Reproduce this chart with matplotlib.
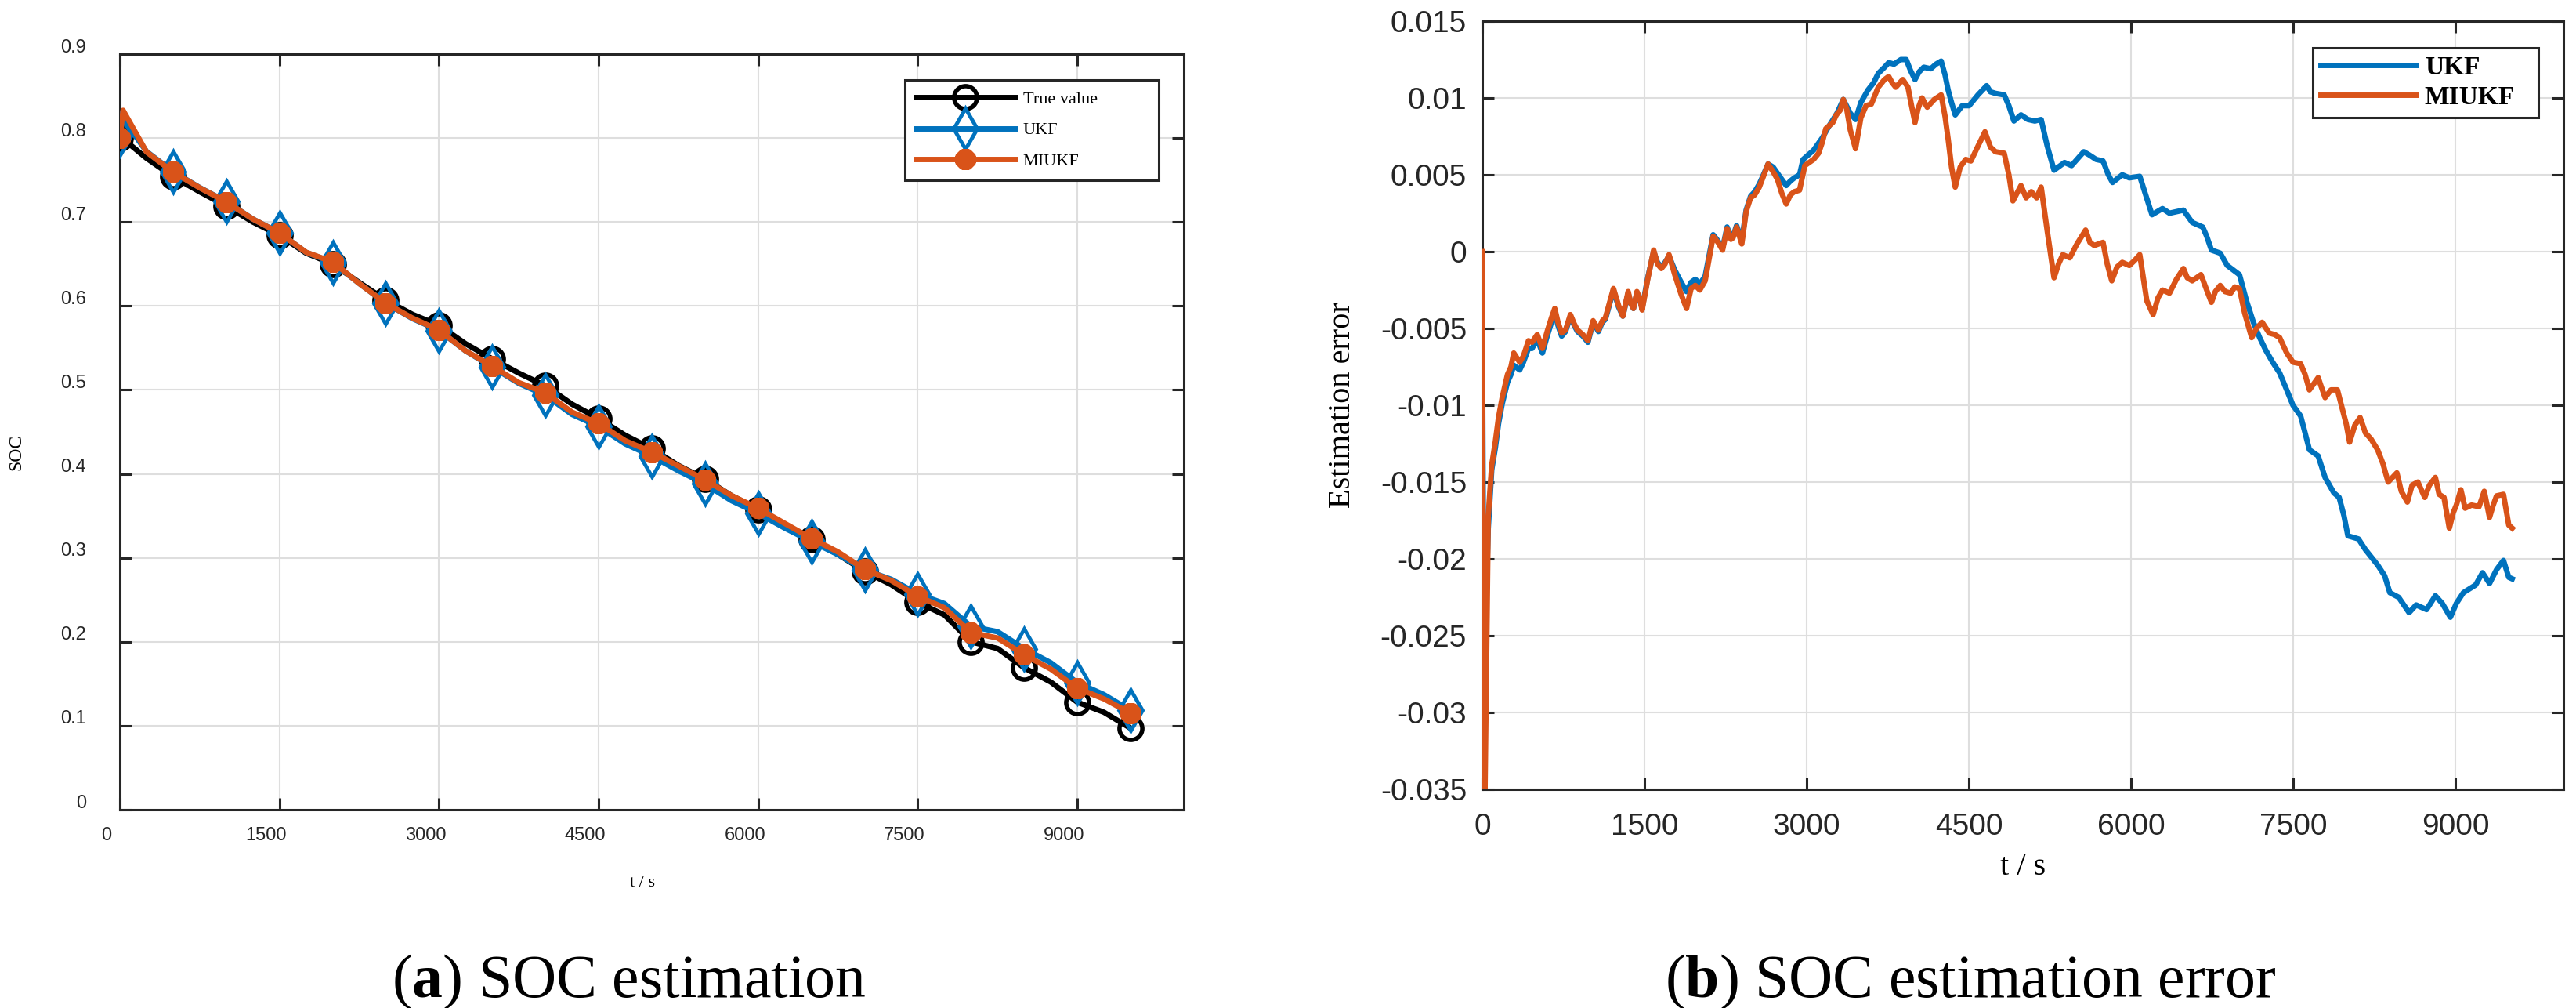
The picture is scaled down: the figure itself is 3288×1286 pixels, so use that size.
import matplotlib
matplotlib.use('Agg')
import matplotlib.pyplot as plt
from matplotlib.transforms import ScaledTranslation

plt.rcParams['mathtext.fontset'] = 'custom'
plt.rcParams['mathtext.rm'] = 'Liberation Serif'
plt.rcParams['mathtext.bf'] = 'Liberation Serif:bold'

# ---- (a) SOC estimation ----
t_soc = [0, 30, 250, 500, 750, 1000, 1250, 1500, 1750, 2000, 2250, 2500, 2750, 3000,
         3250, 3500, 3750, 4000, 4250, 4500, 4750, 5000, 5250, 5500, 5750, 6000,
         6250, 6500, 6750, 7000, 7250, 7500, 7750, 8000, 8250, 8500, 8750, 9000,
         9250, 9500]
soc_true = [0.800, 0.799, 0.776, 0.754, 0.736, 0.719, 0.700, 0.684, 0.663, 0.650,
            0.628, 0.607, 0.590, 0.577, 0.555, 0.537, 0.520, 0.505, 0.483, 0.466,
            0.446, 0.430, 0.410, 0.394, 0.374, 0.358, 0.338, 0.322, 0.304, 0.284,
            0.268, 0.247, 0.232, 0.200, 0.192, 0.169, 0.152, 0.128, 0.116, 0.097]
soc_ukf = [0.804, 0.823, 0.784, 0.760, 0.741, 0.7242, 0.7035, 0.687, 0.6638, 0.652,
           0.6268, 0.6032, 0.585, 0.5708, 0.5465, 0.5273, 0.5078, 0.4938, 0.4708,
           0.4565, 0.4357, 0.4212, 0.4037, 0.388, 0.368, 0.353, 0.3354, 0.3194,
           0.3039, 0.2855, 0.2744, 0.257, 0.2455, 0.2183, 0.212, 0.1918, 0.175,
           0.1512, 0.137, 0.1182]
soc_miukf = [0.800, 0.833, 0.7835, 0.7595, 0.7408, 0.724, 0.7035, 0.687, 0.664, 0.6525,
             0.6268, 0.6032, 0.5855, 0.5713, 0.5465, 0.5283, 0.5087, 0.4966, 0.4735,
             0.460, 0.4395, 0.426, 0.4095, 0.393, 0.374, 0.359, 0.341, 0.3232, 0.307,
             0.2864, 0.273, 0.2542, 0.2405, 0.211, 0.2045, 0.1845, 0.1675, 0.1445,
             0.132, 0.1148]

# ---- (b) SOC estimation error ----
t_miukf = [0, 8, 25, 40, 55, 87, 120, 150, 184, 233, 265, 291, 346, 380, 427, 460, 508,
           556, 600, 640, 670, 700, 734, 770, 815, 850, 880, 930, 977, 1025, 1074, 1110,
           1139, 1213, 1260, 1300, 1349, 1375, 1398, 1430, 1455, 1478, 1530, 1585, 1620,
           1656, 1690, 1727, 1780, 1840, 1889, 1931, 1970, 2012, 2061, 2135, 2180, 2222,
           2264, 2300, 2319, 2352, 2400, 2440, 2481, 2520, 2562, 2600, 2643, 2690, 2730,
           2770, 2811, 2850, 2886, 2934, 2983, 3064, 3110, 3144, 3177, 3242, 3274, 3310,
           3339, 3370, 3404, 3452, 3501, 3549, 3598, 3662, 3720, 3759, 3790, 3824, 3889,
           3937, 3970, 4002, 4030, 4067, 4115, 4180, 4244, 4280, 4309, 4340, 4374, 4420,
           4471, 4519, 4580, 4649, 4700, 4746, 4827, 4870, 4908, 4982, 5030, 5078, 5127,
           5169, 5224, 5288, 5330, 5369, 5434, 5500, 5580, 5620, 5660, 5741, 5780, 5822,
           5870, 5919, 5984, 6030, 6081, 6146, 6204, 6250, 6291, 6356, 6420, 6485, 6520,
           6566, 6647, 6700, 6744, 6780, 6825, 6870, 6922, 6960, 7003, 7051, 7116, 7160,
           7213, 7278, 7330, 7375, 7440, 7498, 7569, 7610, 7650, 7731, 7760, 7795, 7850,
           7909, 7957, 7990, 8022, 8070, 8119, 8168, 8220, 8281, 8330, 8378, 8459, 8500,
           8556, 8600, 8653, 8717, 8760, 8815, 8850, 8895, 8944, 8980, 9009, 9051, 9090,
           9150, 9219, 9267, 9316, 9350, 9381, 9445, 9494, 9526]
err_miukf = [0.0, -0.030, -0.035, -0.026, -0.0172, -0.0139, -0.0124, -0.0108, -0.0095,
             -0.008, -0.0075, -0.0066, -0.0072, -0.0068, -0.0058, -0.0059, -0.0054,
             -0.0063, -0.0052, -0.0043, -0.0037, -0.0046, -0.0053, -0.0051, -0.0041,
             -0.0047, -0.0051, -0.0054, -0.0058, -0.0045, -0.0051, -0.0045, -0.0043,
             -0.0024, -0.0035, -0.0042, -0.0026, -0.0034, -0.0037, -0.0026, -0.003,
             -0.0038, -0.0018, 0.0001, -0.0008, -0.0011, -0.0008, -0.0002, -0.0015,
             -0.0028, -0.0037, -0.0024, -0.0022, -0.0025, -0.0019, 0.001, 0.0006, 0.0001,
             0.0015, 0.0008, 0.0009, 0.0016, 0.0005, 0.0026, 0.0035, 0.0037, 0.0042,
             0.0049, 0.0057, 0.0052, 0.0047, 0.0038, 0.0031, 0.0037, 0.0039, 0.0040,
             0.0056, 0.0060, 0.0064, 0.0071, 0.0080, 0.0084, 0.0089, 0.0092, 0.0099,
             0.0093, 0.0079, 0.0067, 0.0087, 0.0095, 0.0096, 0.0107, 0.0112, 0.0114,
             0.0110, 0.0107, 0.0112, 0.0107, 0.0095, 0.0084, 0.0093, 0.0100, 0.0094,
             0.0099, 0.0102, 0.0088, 0.0073, 0.0055, 0.0042, 0.0055, 0.0060, 0.0059,
             0.0068, 0.0078, 0.0068, 0.0065, 0.0064, 0.0050, 0.0033, 0.0043, 0.0035,
             0.0039, 0.0035, 0.0042, 0.0014, -0.0017, -0.0008, -0.0002, -0.0004, 0.0005,
             0.0014, 0.0006, 0.0004, 0.0006, -0.0008, -0.0019, -0.0010, -0.0007, -0.0009,
             -0.0006, -0.0002, -0.0032, -0.0041, -0.0030, -0.0025, -0.0027, -0.0018,
             -0.0011, -0.0017, -0.0019, -0.0015, -0.0025, -0.0033, -0.0026, -0.0022,
             -0.0026, -0.0027, -0.0023, -0.0024, -0.0040, -0.0056, -0.0050, -0.0046,
             -0.0053, -0.0054, -0.0056, -0.0066, -0.0072, -0.0073, -0.0080, -0.0090,
             -0.0082, -0.0088, -0.0095, -0.0090, -0.0090, -0.0103, -0.0112, -0.0124,
             -0.0113, -0.0108, -0.0118, -0.0122, -0.0129, -0.0138, -0.0150, -0.0144,
             -0.0156, -0.0163, -0.0152, -0.0150, -0.0160, -0.0152, -0.0147, -0.0158,
             -0.0160, -0.0180, -0.0170, -0.0165, -0.0155, -0.0167, -0.0165, -0.0166,
             -0.0156, -0.0173, -0.0165, -0.0159, -0.0158, -0.0178, -0.0180]

t_ukf = [0, 10, 28, 42, 55, 87, 120, 150, 184, 233, 265, 291, 346, 380, 427, 460, 508,
         556, 600, 640, 670, 700, 734, 770, 815, 850, 880, 930, 977, 1025, 1074, 1110,
         1139, 1213, 1260, 1300, 1349, 1375, 1398, 1430, 1455, 1478, 1530, 1585, 1620,
         1656, 1690, 1727, 1780, 1840, 1889, 1931, 1970, 2012, 2061, 2135, 2180, 2222,
         2264, 2300, 2319, 2352, 2400, 2440, 2481, 2520, 2562, 2600, 2643, 2690, 2730,
         2770, 2811, 2850, 2886, 2934, 2967, 3064, 3144, 3209, 3280, 3339, 3404, 3452,
         3501, 3565, 3620, 3662, 3720, 3759, 3807, 3872, 3921, 3960, 4002, 4040, 4083,
         4148, 4196, 4244, 4280, 4309, 4340, 4374, 4439, 4503, 4584, 4665, 4700, 4746,
         4827, 4870, 4917, 4982, 5046, 5110, 5169, 5224, 5288, 5385, 5450, 5563, 5612,
         5677, 5741, 5790, 5829, 5919, 5984, 6081, 6140, 6194, 6291, 6356, 6485, 6566,
         6663, 6700, 6744, 6825, 6890, 7003, 7068, 7132, 7190, 7245, 7310, 7375, 7440,
         7498, 7569, 7610, 7650, 7731, 7795, 7876, 7925, 7970, 8006, 8103, 8168, 8281,
         8346, 8394, 8475, 8572, 8637, 8734, 8815, 8879, 8954, 9009, 9074, 9187, 9251,
         9316, 9381, 9445, 9494, 9526]
err_ukf = [-0.004, -0.020, -0.0245, -0.021, -0.018, -0.0142, -0.0128, -0.0112, -0.0099,
           -0.0085, -0.0080, -0.0074, -0.0077, -0.0072, -0.0063, -0.0063, -0.0057,
           -0.0066, -0.0055, -0.0046, -0.0040, -0.0048, -0.0055, -0.0052, -0.0042,
           -0.0048, -0.0052, -0.0055, -0.0059, -0.0046, -0.0052, -0.0046, -0.0044,
           -0.0025, -0.0036, -0.0042, -0.0027, -0.0034, -0.0037, -0.0027, -0.0031,
           -0.0037, -0.0017, 0.0000, -0.0007, -0.0010, -0.0007, -0.0003, -0.0012,
           -0.0020, -0.0026, -0.0020, -0.0018, -0.0021, -0.0016, 0.0011, 0.0007, 0.0002,
           0.0016, 0.0009, 0.0010, 0.0017, 0.0007, 0.0027, 0.0036, 0.0039, 0.0044,
           0.0050, 0.0057, 0.0055, 0.0051, 0.0047, 0.0043, 0.0046, 0.0048, 0.0050,
           0.0060, 0.0066, 0.0074, 0.0082, 0.0090, 0.0099, 0.0090, 0.0086, 0.0097,
           0.0105, 0.0110, 0.0116, 0.0120, 0.0123, 0.0122, 0.0125, 0.0125, 0.0118,
           0.0112, 0.0117, 0.0120, 0.0119, 0.0122, 0.0124, 0.0115, 0.0105, 0.0097,
           0.0089, 0.0095, 0.0095, 0.0102, 0.0108, 0.0104, 0.0103, 0.0102, 0.0095,
           0.0085, 0.0089, 0.0086, 0.0085, 0.0086, 0.0069, 0.0053, 0.0058, 0.0056,
           0.0065, 0.0063, 0.0060, 0.0059, 0.0050, 0.0045, 0.0050, 0.0048, 0.0049,
           0.0036, 0.0024, 0.0028, 0.0025, 0.0027, 0.0019, 0.0016, 0.0010, 0.0001,
           -0.0001, -0.0009, -0.0015, -0.0032, -0.0046, -0.0056, -0.0064, -0.0072,
           -0.0079, -0.0090, -0.0100, -0.0107, -0.0118, -0.0129, -0.0133, -0.0147,
           -0.0157, -0.0160, -0.0172, -0.0185, -0.0187, -0.0194, -0.0204, -0.0211,
           -0.0222, -0.0225, -0.0235, -0.0230, -0.0233, -0.0224, -0.0229, -0.0238,
           -0.0229, -0.0222, -0.0217, -0.0209, -0.0216, -0.0207, -0.0201, -0.0212,
           -0.0213]

x_ticks = [0, 1500, 3000, 4500, 6000, 7500, 9000]
x_ticklabels = ['0', '1500', '3000', '4500', '6000', '7500', '9000']
soc_ticks = [0, 0.1, 0.2, 0.3, 0.4, 0.5, 0.6, 0.7, 0.8, 0.9]
soc_ticklabels = ['0', '0.1', '0.2', '0.3', '0.4', '0.5', '0.6', '0.7', '0.8', '0.9']
err_ticks = [-0.035, -0.03, -0.025, -0.02, -0.015, -0.01, -0.005, 0, 0.005, 0.01, 0.015]
err_ticklabels = ['-0.035', '-0.03', '-0.025', '-0.02', '-0.015', '-0.01', '-0.005',
                  '0', '0.005', '0.01', '0.015']

BLUE = '#0072BD'
ORANGE = '#D95319'
DARK = '#262626'
SERIF = 'Liberation Serif'
SANS = 'Liberation Sans'

fig = plt.figure(figsize=(32.88, 12.86), dpi=100)
ax1 = fig.add_axes([0.04653, 0.19673, 0.41302, 0.74961])
ax2 = fig.add_axes([0.57543, 0.21695, 0.41971, 0.76205])


def style_axes(ax, tick_size, xpad, ypad):
    for sp in ax.spines.values():
        sp.set_color(DARK)
        sp.set_linewidth(2.2)
    ax.tick_params(which='both', direction='in', top=True, right=True,
                   length=11, width=2.2, color=DARK, labelcolor=DARK,
                   labelsize=tick_size)
    ax.tick_params(axis='x', pad=xpad)
    ax.tick_params(axis='y', pad=ypad)
    ax.grid(True, color='#dedede', linewidth=1.5)
    ax.set_axisbelow(True)
    for lab in ax.get_xticklabels() + ax.get_yticklabels():
        lab.set_fontfamily(SANS)


# left panel
mark_idx = [i for i, t in enumerate(t_soc) if t % 500 == 0]
ax1.plot(t_soc, soc_true, color='black', lw=5, marker='o', ms=21, mfc='none',
         mec='black', mew=4, markevery=mark_idx, label='True value', zorder=3)
ax1.plot(t_soc, soc_ukf, color=BLUE, lw=5, marker='d', ms=26, mfc='none',
         mec=BLUE, mew=3.5, markevery=mark_idx, label='UKF', zorder=4)
ax1.plot(t_soc, soc_miukf, color=ORANGE, lw=5, marker=(8, 2, 0), ms=19,
         mec=ORANGE, mew=7, markevery=mark_idx, label='MIUKF', zorder=5)
ax1.set_xlim(0, 10000)
ax1.set_ylim(0, 0.9)
ax1.set_xticks(x_ticks)
ax1.set_xticklabels(x_ticklabels)
ax1.set_yticks(soc_ticks)
ax1.set_yticklabels(soc_ticklabels)
style_axes(ax1, 17, 16, 31)

ax1.set_xlabel('t / s', fontsize=16, family=SERIF, va='center')
ax1.xaxis.set_label_coords(0.491, -0.0965)
ax1.set_ylabel('SOC', fontsize=17, family=SERIF, va='center')
ax1.yaxis.set_label_coords(-0.0972, 0.473)

leg1 = ax1.legend(loc='upper left', bbox_to_anchor=(0.7378, 0.0, 0.2386, 0.9658),
                  mode='expand', borderaxespad=0, prop={'family': SERIF, 'size': 16},
                  handlelength=5.7, handletextpad=0.45, labelspacing=0.86,
                  borderpad=0.64, fancybox=False, framealpha=1, edgecolor=DARK)
leg1.get_frame().set_linewidth(2.2)

# right panel
ax2.plot(t_ukf, err_ukf, color=BLUE, lw=5, label='UKF', zorder=3)
ax2.plot(t_miukf, err_miukf, color=ORANGE, lw=5, label='MIUKF', zorder=4)
ax2.set_xlim(0, 10000)
ax2.set_ylim(-0.035, 0.015)
ax2.set_xticks(x_ticks)
ax2.set_xticklabels(x_ticklabels)
ax2.set_yticks(err_ticks)
ax2.set_yticklabels(err_ticklabels)
style_axes(ax2, 28, 21.6, 14.4)

ax2.set_xlabel('t / s', fontsize=29, family=SERIF, va='center')
ax2.xaxis.set_label_coords(0.5, -0.102)
ax2.set_ylabel('Estimation error', fontsize=29, family=SERIF, va='center')
ax2.yaxis.set_label_coords(-0.1297, 0.5)

leg2 = ax2.legend(loc='upper left', bbox_to_anchor=(0.7681, 0.0, 0.2087, 0.9653),
                  mode='expand', borderaxespad=0,
                  prop={'family': SERIF, 'size': 24, 'weight': 'bold'},
                  handlelength=3.66, handletextpad=0.32, labelspacing=0.2,
                  borderpad=0.3, fancybox=False, framealpha=1, edgecolor=DARK)
leg2.get_frame().set_linewidth(2.2)

# left panel tick labels sit slightly up / left of their ticks in the original
shift_x = ScaledTranslation(-17 / 100, 0, fig.dpi_scale_trans)
shift_y = ScaledTranslation(0, 11 / 100, fig.dpi_scale_trans)
for lab in ax1.get_xticklabels():
    lab.set_transform(lab.get_transform() + shift_x)
for lab in ax1.get_yticklabels():
    lab.set_transform(lab.get_transform() + shift_y)

# captions
fig.text(803 / 3288, 1 - 1253 / 1286, '(' + r'$\mathbf{a}$' + ') SOC estimation',
         ha='center', va='center', fontsize=56, family=SERIF)
fig.text(2515 / 3288, 1 - 1253 / 1286, '(' + r'$\mathbf{b}$' + ') SOC estimation error',
         ha='center', va='center', fontsize=56, family=SERIF)

fig.savefig('out.png', dpi=100)
